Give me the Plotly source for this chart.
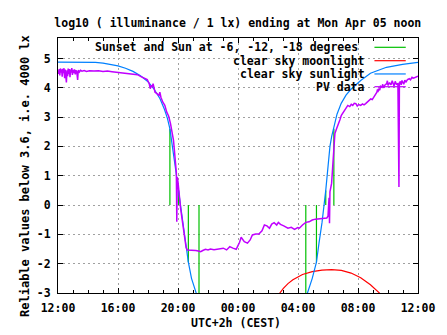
import plotly.graph_objects as go

# ---------------- data (hours after 12:00 on Sun Apr 04) ----------------
x_tick_hours = [0, 4, 8, 12, 16, 20, 24]
x_tick_labels = ["12:00", "16:00", "20:00", "00:00", "04:00", "08:00", "12:00"]
y_tick_values = [-3, -2, -1, 0, 1, 2, 3, 4, 5]
y_tick_labels = ["-3", "-2", "-1", "0", "1", "2", "3", "4", "5"]

# sunset / -6 / -12 / -18 deg (evening), -18 / -12 / -6 / sunrise (morning)
sun_event_hours = [7.46, 8.04, 8.69, 9.40, 16.52, 17.23, 17.85, 18.39]
sun_event_values = [2.60, 0.50, -1.95, -3.30, -3.30, -1.95, 0.50, 2.60]

moon_hours = [14.70, 14.79, 15.01, 15.33, 15.66, 16.30, 16.95, 17.60, 18.24,
              18.89, 19.54, 20.18, 20.83, 21.43, 21.50]
moon_values = [-3.10, -3.00, -2.85, -2.68, -2.55, -2.37, -2.27, -2.22, -2.20,
               -2.23, -2.32, -2.48, -2.72, -3.00, -3.10]

sun_hours = [0.0, 1.0, 2.5, 3.0, 3.5, 4.0, 4.5, 5.0, 5.5, 6.0, 6.4, 6.8, 7.1,
             7.3, 7.46, 7.6, 7.75, 7.9, 8.04, 8.2, 8.35, 8.5, 8.69, 8.9, 9.1,
             9.25, 9.4,
             16.52, 16.63, 16.95, 17.23, 17.4, 17.6, 17.85, 18.0, 18.13, 18.25,
             18.39, 18.6, 18.88, 19.2, 19.53, 20.18, 20.83, 21.9, 22.97, 24.0]
sun_values = [4.88, 4.88, 4.87, 4.84, 4.80, 4.75, 4.67, 4.56, 4.41, 4.21, 3.96,
              3.63, 3.26, 2.95, 2.60, 2.15, 1.55, 1.00, 0.50, -0.10, -0.70,
              -1.25, -1.95, -2.50, -2.85, -3.10, -3.30,
              -3.30, -3.00, -2.50, -1.95, -1.30, -0.60, 0.50, 1.30, 2.00, 2.35,
              2.65, 3.10, 3.47, 3.75, 3.95, 4.25, 4.50, 4.70, 4.80, 4.87]

pv_hours = [0.00, 0.04, 0.08, 0.12, 0.16, 0.20, 0.24, 0.28, 0.32, 0.36, 0.40,
            0.44, 0.48, 0.52, 0.56, 0.60, 0.64, 0.68, 0.72, 0.76, 0.80, 0.84,
            0.88, 0.92, 0.96, 1.00, 1.05, 1.10, 1.15, 1.20, 1.25, 1.31, 1.35,
            1.42, 1.50, 1.60, 1.75, 1.90, 2.10, 2.40, 2.70, 3.00, 3.30, 3.60,
            4.00, 4.30, 4.60, 4.90, 5.10, 5.30, 5.50, 5.76, 5.95, 6.08, 6.15,
            6.20, 6.27, 6.34, 6.40, 6.47, 6.60, 6.73, 6.79, 6.86, 6.99, 7.12,
            7.25, 7.38, 7.50, 7.63, 7.70, 7.76, 7.83, 7.89, 7.92, 7.95, 8.00,
            8.09, 8.17, 8.28, 8.38, 8.44, 8.54, 8.62,
            8.75, 9.00, 9.19, 9.35, 9.51, 9.65, 9.83, 10.00, 10.16, 10.40, 10.69,
            10.85, 11.02, 11.24, 11.45, 11.66, 11.88, 11.99, 12.10, 12.21, 12.31,
            12.42, 12.63, 12.81, 12.96, 13.18, 13.39, 13.60, 13.76, 13.93, 14.10,
            14.25, 14.41, 14.58, 14.69, 14.83, 15.05, 15.33, 15.55, 15.77, 15.98,
            16.09, 16.30, 16.52, 16.74, 16.95, 17.16, 17.40, 17.60, 17.80, 17.92,
            18.00, 18.04, 18.07, 18.10, 18.13, 18.24, 18.30, 18.35, 18.46, 18.57,
            18.68, 18.79, 18.89, 19.00, 19.10, 19.20, 19.32, 19.45, 19.55, 19.65,
            19.75, 19.86, 19.95, 20.05, 20.18, 20.30, 20.40, 20.51, 20.62, 20.72,
            20.85, 20.95, 21.04, 21.15, 21.26, 21.30, 21.33, 21.37, 21.45, 21.50,
            21.59, 21.65, 21.70, 21.80, 21.91, 21.96, 22.00, 22.10, 22.20, 22.28,
            22.34, 22.40, 22.48, 22.56, 22.66, 22.73, 22.76, 22.82, 22.88, 22.93,
            22.99, 23.05, 23.12, 23.20, 23.30, 23.42, 23.50, 23.60, 23.70, 23.85,
            24.00]
pv_values = [4.60, 4.48, 4.64, 4.42, 4.66, 4.52, 4.63, 4.38, 4.65, 4.50, 4.67,
             4.33, 4.62, 4.45, 4.18, 4.60, 4.40, 4.66, 4.47, 4.64, 4.36, 4.62,
             4.52, 4.67, 4.44, 4.61, 4.50, 4.63, 4.46, 4.60, 4.55, 4.27, 4.60,
             4.54, 4.60, 4.57, 4.59, 4.56, 4.58, 4.57, 4.58, 4.56, 4.57, 4.55,
             4.53, 4.52, 4.50, 4.49, 4.47, 4.45, 4.39, 4.34, 4.28, 4.14, 3.97,
             4.08, 4.02, 4.14, 3.97, 3.85, 3.80, 3.74, 3.85, 3.68, 3.51, 3.40,
             3.17, 3.03, 2.78, 2.40, 2.21, 1.87, 1.53, 1.10, -0.57, 0.95, 0.79,
             0.17, -0.10, -0.51, -0.85, -1.08, -1.45, -1.53,
             -1.53, -1.55, -1.55, -1.57, -1.59, -1.55, -1.51, -1.53, -1.50, -1.52,
             -1.50, -1.49, -1.47, -1.53, -1.42, -1.47, -1.51, -1.39, -1.28, -1.10,
             -1.19, -1.25, -1.30, -1.19, -1.02, -0.99, -0.99, -0.88, -0.68, -0.71,
             -0.79, -0.65, -0.60, -0.68, -0.59, -0.66, -0.71, -0.79, -0.76, -0.83,
             -0.77, -0.79, -0.68, -0.59, -0.57, -0.51, -0.48, -0.46, -0.45, -0.43,
             -0.44, -0.38, -0.10, 0.25, -0.62, 0.45, 0.74, 1.30, 1.87, 2.44, 2.60,
             2.72, 2.90, 3.06, 3.15, 3.23, 3.33, 3.40, 3.36, 3.44, 3.40, 3.47,
             3.46, 3.38, 3.43, 3.40, 3.45, 3.42, 3.46, 3.52, 3.57, 3.62, 3.60,
             3.68, 3.76, 3.85, 3.95, 3.85, 3.97, 3.92, 4.05, 4.02, 4.12, 4.00,
             4.10, 4.14, 4.24, 4.08, 4.18, 4.10, 4.24, 4.16, 4.06, 4.22, 4.12,
             4.14, 0.62, 4.14, 4.22, 4.10, 4.25, 4.19, 4.12, 4.26, 4.20, 4.28,
             4.31, 4.27, 4.36, 4.33, 4.38, 4.40]

legend_labels = ["Sunset and Sun at -6, -12, -18 degrees", "clear sky moonlight",
                 "clear sky sunlight", "PV data"]

GREEN, RED, BLUE, PURPLE = "#00c000", "#ff0000", "#0080ff", "#c000ff"
FONT = dict(family="DejaVu Sans Mono", size=11.5, color="black", weight="bold")

# ---------------- figure ----------------
sx, sy = [], []
for h, v in zip(sun_event_hours, sun_event_values):
    sx += [h, h, None]
    sy += [0, v, None]

fig = go.Figure()
fig.add_trace(go.Scatter(x=sx, y=sy, mode="lines", line=dict(color=GREEN, width=1.2),
                         name=legend_labels[0], showlegend=False))
fig.add_trace(go.Scatter(x=moon_hours, y=moon_values, mode="lines",
                         line=dict(color=RED, width=1.2), name=legend_labels[1],
                         showlegend=False))
fig.add_trace(go.Scatter(x=sun_hours, y=sun_values, mode="lines",
                         line=dict(color=BLUE, width=1.2), name=legend_labels[2],
                         showlegend=False))
fig.add_trace(go.Scatter(x=pv_hours, y=pv_values, mode="lines",
                         line=dict(color=PURPLE, width=1.5), name=legend_labels[3],
                         showlegend=False))

# opaque key box (hides grid only)
fig.add_shape(type="rect", xref="paper", yref="paper", x0=0.124, x1=0.976,
              y0=0.784, y1=0.995, fillcolor="white", line=dict(width=0),
              layer="between")

colors = [GREEN, RED, BLUE, PURPLE]
rows_y = [0.9635, 0.911, 0.859, 0.809]
text_x = [0.838, 0.857, 0.857, 0.857]
for lab, c, yy, xx in zip(legend_labels, colors, rows_y, text_x):
    fig.add_annotation(text=lab, xref="paper", yref="paper", x=xx, y=yy,
                       xanchor="right", yanchor="middle", showarrow=False, font=FONT)
    fig.add_shape(type="line", xref="paper", yref="paper", x0=0.879, x1=0.966,
                  y0=yy, y1=yy, line=dict(color=c, width=1.2))

fig.add_annotation(text="Reliable values below 3.6, i.e. 4000 lx", xref="paper",
                   yref="paper", x=-0.0916, y=0.459, textangle=-90, showarrow=False,
                   xanchor="center", yanchor="middle",
                   font=dict(family="DejaVu Sans Mono", size=12, color="black",
                             weight="bold"))
fig.add_annotation(text="UTC+2h (CEST)", xref="paper", yref="paper", x=0.495,
                   y=-0.118, showarrow=False, xanchor="center", yanchor="middle",
                   font=FONT)

fig.update_layout(
    width=447, height=335,
    margin=dict(l=58, r=18, t=38, b=42),
    paper_bgcolor="white", plot_bgcolor="white",
    title=dict(text="log10 ( illuminance / 1 lx) ending at Mon Apr 05 noon",
               x=0.532, xanchor="center", y=0.932, yanchor="middle", font=FONT),
    showlegend=False,
)
fig.update_xaxes(range=[0, 24], tickmode="array", tickvals=x_tick_hours,
                 ticktext=x_tick_labels, ticks="inside", ticklen=5, tickcolor="black",
                 showline=True, linecolor="black", linewidth=1, mirror="allticks",
                 showgrid=True, gridcolor="#a0a0a0", griddash="2px,3px", gridwidth=1,
                 zeroline=False, tickfont=FONT, ticklabelstandoff=4,
                 minor=dict(dtick=1, tick0=0, ticks="inside", ticklen=3,
                            tickcolor="black", showgrid=False))
fig.update_yaxes(range=[-3, 5.7], tickmode="array", tickvals=y_tick_values,
                 ticktext=y_tick_labels, ticks="inside", ticklen=5, tickcolor="black",
                 showline=True, linecolor="black", linewidth=1, mirror="allticks",
                 showgrid=True, gridcolor="#a0a0a0", griddash="2px,3px", gridwidth=1,
                 zeroline=False, tickfont=FONT, ticklabelstandoff=4)

fig.write_html("out.html")
